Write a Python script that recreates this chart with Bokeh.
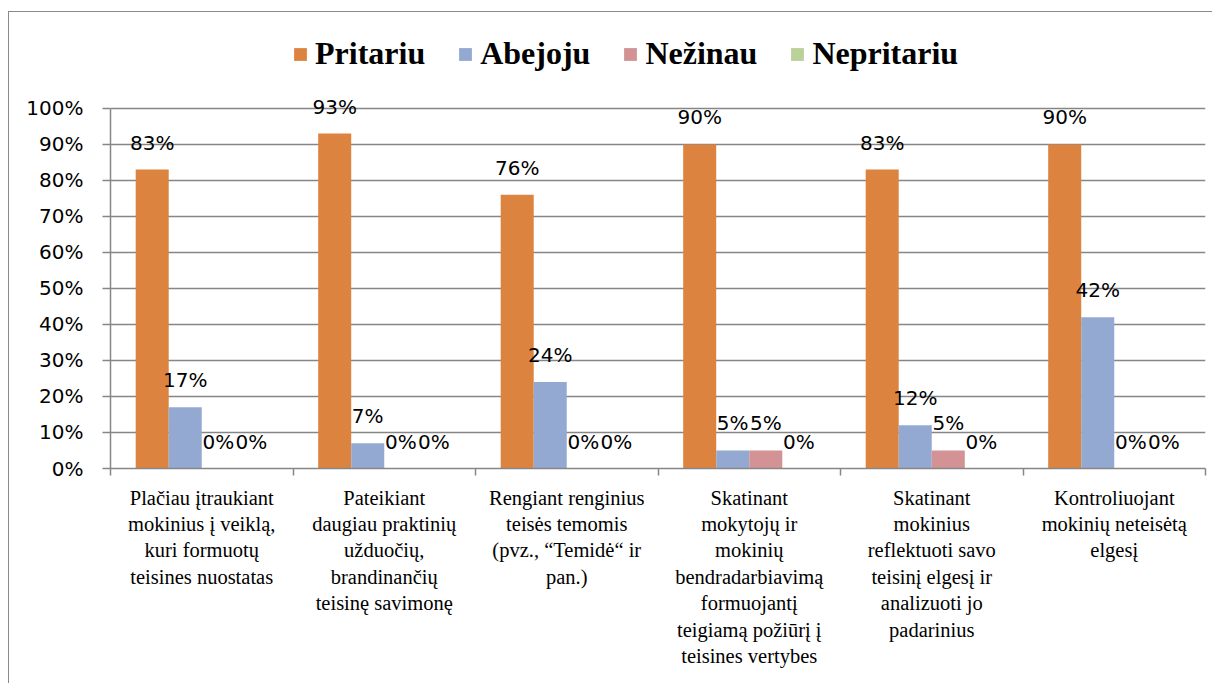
from bokeh.plotting import figure
from bokeh.models import (Range1d, FixedTicker, PrintfTickFormatter, LinearAxis,
                          Legend, LegendItem, ColumnDataSource, Grid)
from bokeh.transform import dodge
from bokeh.core.properties import value
from bokeh.embed import file_html
from bokeh.resources import INLINE

categories = [
    "Plačiau įtraukiant\nmokinius į veiklą,\nkuri formuotų\nteisines nuostatas",
    "Pateikiant\ndaugiau praktinių\nužduočių,\nbrandinančių\nteisinę savimonę",
    "Rengiant renginius\nteisės temomis\n(pvz., “Temidė“ ir\npan.)",
    "Skatinant\nmokytojų ir\nmokinių\nbendradarbiavimą\nformuojantį\nteigiamą požiūrį į\nteisines vertybes",
    "Skatinant\nmokinius\nreflektuoti savo\nteisinį elgesį ir\nanalizuoti jo\npadarinius",
    "Kontroliuojant\nmokinių neteisėtą\nelgesį",
]
series_names = ["Pritariu", "Abejoju", "Nežinau", "Nepritariu"]
pritariu = [83, 93, 76, 90, 83, 90]
abejoju = [17, 7, 24, 5, 12, 42]
nezinau = [0, 0, 0, 5, 5, 0]
nepritariu = [0, 0, 0, 0, 0, 0]
y_ticks = list(range(0, 101, 10))

colors = ["#DC843F", "#94A9D1", "#D39294", "#BAD199"]
series_values = [pritariu, abejoju, nezinau, nepritariu]

n = len(categories)
centers = [i + 0.5 for i in range(n)]
data = {"x": centers}
keys = ["s0", "s1", "s2", "s3"]
for k, vals in zip(keys, series_values):
    data[k] = vals
    data[k + "_lbl"] = [f"{v}%" for v in vals]
src = ColumnDataSource(data)

GRID = "#868686"
bar_w = 0.181

H = 672
p = figure(width=1204, height=H, output_backend="svg", toolbar_location=None,
           x_range=Range1d(0, n), y_range=Range1d(0, 124.4),
           x_axis_type=None, y_axis_type=None,
           min_border_left=101, min_border_right=8,
           min_border_top=8, min_border_bottom=H - 456)
p.outline_line_color = None
p.background_fill_color = "white"
p.border_fill_color = "white"
p.styles = {"border-left": "1px solid #8a8a8a", "border-top": "1px solid #8a8a8a",
            "margin-top": "11px", "margin-left": "8px"}

# y axis
yax = LinearAxis(ticker=FixedTicker(ticks=y_ticks, minor_ticks=[]),
                 formatter=PrintfTickFormatter(format="%d%%"), bounds=(0, 100))
yax.axis_line_color = GRID
yax.axis_line_width = 1.5
yax.major_tick_line_color = GRID
yax.major_tick_line_width = 1.5
yax.major_tick_out = 8
yax.major_tick_in = 0
yax.minor_tick_line_color = None
yax.major_label_standoff = 19
yax.major_label_text_font = "DejaVu Sans"
yax.major_label_text_font_size = "20px"
yax.major_label_text_color = "black"
p.add_layout(yax, "left")

# x axis: labels at centers, tick marks at boundaries (minor ticks)
xax = LinearAxis(ticker=FixedTicker(ticks=centers, minor_ticks=list(range(n + 1))))
xax.major_label_overrides = {c: lab for c, lab in zip(centers, categories)}
xax.axis_line_color = GRID
xax.axis_line_width = 1.5
xax.major_tick_line_color = None
xax.major_tick_out = 0
xax.major_tick_in = 0
xax.minor_tick_line_color = GRID
xax.minor_tick_line_width = 1.5
xax.minor_tick_out = 7
xax.minor_tick_in = 0
xax.major_label_standoff = 11
xax.major_label_text_font = "Liberation Serif"
xax.major_label_text_font_size = "20.5px"
xax.major_label_text_color = "black"
xax.major_label_text_align = "center"
p.add_layout(xax, "below")

# grid
g = Grid(dimension=1, ticker=FixedTicker(ticks=y_ticks[1:]), grid_line_color=GRID,
         grid_line_width=1.5)
p.add_layout(g)

offsets = [(-1.5 + j) * bar_w for j in range(4)]
items = []
for j, k in enumerate(keys):
    r = p.vbar(x=dodge("x", offsets[j]), top=k, width=bar_w, source=src,
               fill_color=colors[j], line_color=None)
    p.text(x=dodge("x", offsets[j]), y=k, text=k + "_lbl", source=src,
           text_font=value("DejaVu Sans"), text_font_size="20px",
           text_align="center", text_baseline="alphabetic", y_offset=-27,
           text_color="black")
    items.append(LegendItem(label=series_names[j], renderers=[r]))

legend = Legend(items=items, orientation="horizontal", location=(182, 396))
legend.label_text_font = "Liberation Serif"
legend.label_text_font_style = "bold"
legend.label_text_font_size = "32px"
legend.label_text_color = "black"
legend.glyph_width = 16
legend.glyph_height = 16
legend.label_standoff = 7
legend.spacing = 32
legend.padding = 0
legend.margin = 0
legend.border_line_color = None
legend.background_fill_alpha = 0
p.add_layout(legend, "center")

open("out.html", "w").write(file_html(p, INLINE))
